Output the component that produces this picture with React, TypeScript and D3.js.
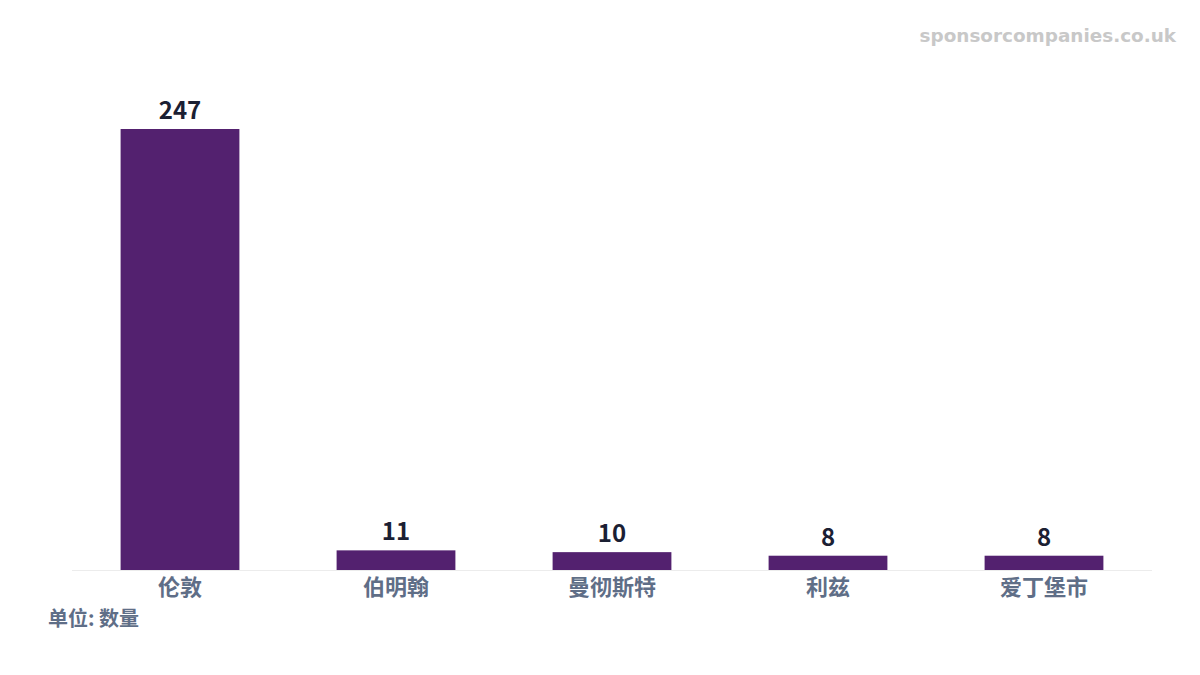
import * as d3 from "d3";

const cities = ["伦敦", "伯明翰", "曼彻斯特", "利兹", "爱丁堡市"];
const counts = [247, 11, 10, 8, 8];

const W = 1200;
const H = 675;
const margin = { left: 72, right: 48, top: 129, bottom: 105 };
const font = "'Noto Sans CJK SC', 'Noto Sans', sans-serif";

export default function App() {
  const x = d3
    .scaleBand<string>()
    .domain(cities)
    .range([margin.left, W - margin.right])
    .paddingInner(0.45)
    .paddingOuter(0.225);
  const y = d3
    .scaleLinear()
    .domain([0, 247])
    .range([H - margin.bottom, margin.top]);
  const base = y(0);

  return (
    <svg
      width={W}
      height={H}
      style={{ position: "absolute", left: 0, top: 0, background: "#fff" }}
    >
      <text
        x={1176}
        y={42}
        textAnchor="end"
        fontFamily="'DejaVu Sans', sans-serif"
        fontWeight="bold"
        fontSize={18.4}
        fill="#c8c8c8"
      >
        sponsorcompanies.co.uk
      </text>
      <line x1={margin.left} x2={W - margin.right} y1={base + 0.5} y2={base + 0.5} stroke="#ececec" />
      {cities.map((c, i) => (
        <g key={c}>
          <rect
            x={x(c)}
            y={y(counts[i])}
            width={x.bandwidth()}
            height={base - y(counts[i])}
            fill="#53216f"
          />
          <text
            x={(x(c) ?? 0) + x.bandwidth() / 2}
            y={y(counts[i]) - 10}
            textAnchor="middle"
            fontFamily={font}
            fontWeight="bold"
            fontSize={24}
            fill="#1b2033"
          >
            {counts[i]}
          </text>
          <text
            x={(x(c) ?? 0) + x.bandwidth() / 2}
            y={base + 25}
            textAnchor="middle"
            fontFamily={font}
            fontWeight="bold"
            fontSize={22}
            fill="#5f6e87"
          >
            {c}
          </text>
        </g>
      ))}
      <text
        x={48}
        y={626}
        fontFamily={font}
        fontWeight="bold"
        fontSize={20}
        fill="#5f6e87"
      >
        单位: 数量
      </text>
    </svg>
  );
}
